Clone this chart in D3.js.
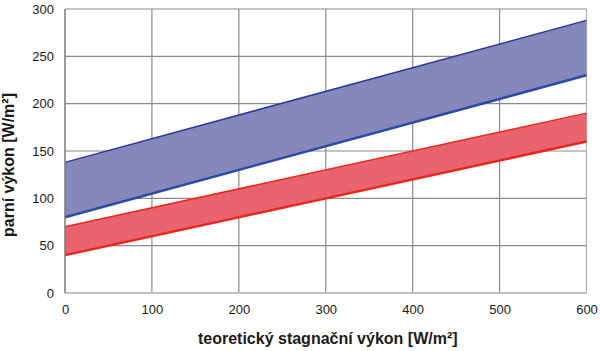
<!DOCTYPE html>
<html>
<head>
<meta charset="utf-8">
<script src="https://cdn.jsdelivr.net/npm/d3@7"></script>
<style>
  body { margin: 0; background: #fff; }
  svg { display: block; }
</style>
</head>
<body>
<div id="chart"></div>
<script>
// teoretický stagnační výkon vs. parní výkon
const xValues = [0, 600];
const blueLow = [80, 230];
const blueHigh = [138, 288];
const redLow = [40, 160];
const redHigh = [70, 190];
const xTicks = [0, 100, 200, 300, 400, 500, 600];
const yTicks = [0, 50, 100, 150, 200, 250, 300];

const W = 600, H = 351;
const margin = { top: 9, right: 13.5, bottom: 58, left: 65 };
const width = W - margin.left - margin.right;
const height = H - margin.top - margin.bottom;

const svg = d3.select('#chart').append('svg')
  .attr('width', W).attr('height', H)
  .append('g').attr('transform', `translate(${margin.left},${margin.top})`);

const x = d3.scaleLinear().domain([0, 600]).range([0, width]);
const y = d3.scaleLinear().domain([0, 300]).range([height, 0]);

const font = 'Liberation Sans, Arial, sans-serif';

// grid
svg.append('g')
  .selectAll('line.v').data(xTicks.slice(1, -1)).join('line')
  .attr('x1', d => x(d)).attr('x2', d => x(d)).attr('y1', 0).attr('y2', height)
  .attr('stroke', '#8a8a8a').attr('stroke-width', 1.2);
svg.append('g')
  .selectAll('line.h').data(yTicks.slice(1)).join('line')
  .attr('x1', 0).attr('x2', width).attr('y1', d => y(d)).attr('y2', d => y(d))
  .attr('stroke', '#8a8a8a').attr('stroke-width', 1.2);
// right border
svg.append('line').attr('x1', width).attr('x2', width).attr('y1', 0).attr('y2', height)
  .attr('stroke', '#b0b0b0').attr('stroke-width', 1.2);

const rows = xValues.map((v, i) => ({ x: v, bl: blueLow[i], bh: blueHigh[i], rl: redLow[i], rh: redHigh[i] }));

const area = (lo, hi) => d3.area().x(d => x(d.x)).y0(d => y(d[lo])).y1(d => y(d[hi]));
const line = key => d3.line().x(d => x(d.x)).y(d => y(d[key]));

svg.append('path').datum(rows).attr('d', area('bl', 'bh')).attr('fill', '#8588bb');
svg.append('path').datum(rows).attr('d', area('rl', 'rh')).attr('fill', '#ea6470');

svg.append('path').datum(rows).attr('d', line('bh')).attr('fill', 'none').attr('stroke', '#2b3a96').attr('stroke-width', 1.5);
svg.append('path').datum(rows).attr('d', line('bl')).attr('fill', 'none').attr('stroke', '#2d4aa8').attr('stroke-width', 2.5);
svg.append('path').datum(rows).attr('d', line('rh')).attr('fill', 'none').attr('stroke', '#e8281c').attr('stroke-width', 1.5);
svg.append('path').datum(rows).attr('d', line('rl')).attr('fill', 'none').attr('stroke', '#e8281c').attr('stroke-width', 2.5);

// axes
svg.append('line').attr('x1', 0).attr('x2', width).attr('y1', height).attr('y2', height)
  .attr('stroke', '#c0c0c0').attr('stroke-width', 2);
svg.append('line').attr('x1', 0).attr('x2', 0).attr('y1', 0).attr('y2', height)
  .attr('stroke', '#7a7a7a').attr('stroke-width', 1.5);

svg.append('g').attr('transform', `translate(0,${height})`)
  .call(d3.axisBottom(x).tickValues(xTicks).tickSize(0).tickPadding(12))
  .call(g => g.select('.domain').remove())
  .call(g => g.selectAll('.tick text').attr('fill', '#1a1a1a').attr('font-size', '13px').attr('font-family', font));

svg.append('g')
  .call(d3.axisLeft(y).tickValues(yTicks).tickSize(0).tickPadding(11))
  .call(g => g.select('.domain').remove())
  .call(g => g.selectAll('.tick text').attr('fill', '#1a1a1a').attr('font-size', '13px').attr('font-family', font));

svg.append('text').attr('x', width / 2 + 2).attr('y', height + 51).attr('text-anchor', 'middle')
  .attr('fill', '#1a1a1a').attr('font-size', '16px').attr('font-weight', 'bold').attr('font-family', font)
  .text('teoretický stagnační výkon [W/m²]');
svg.append('text').attr('transform', 'rotate(-90)').attr('x', -height / 2 - 14).attr('y', -51)
  .attr('text-anchor', 'middle')
  .attr('fill', '#1a1a1a').attr('font-size', '16px').attr('font-weight', 'bold').attr('font-family', font)
  .text('parní výkon [W/m²]');
</script>
</body>
</html>
